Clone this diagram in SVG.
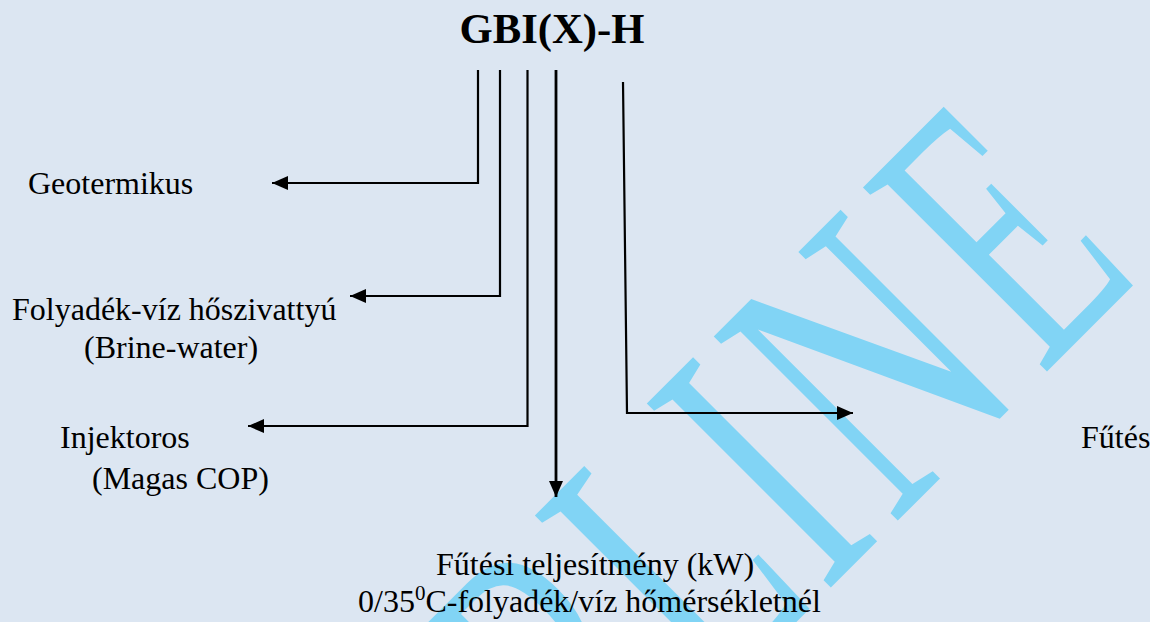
<svg xmlns="http://www.w3.org/2000/svg" width="1150" height="622" viewBox="0 0 1150 622">
  <defs>
    <marker id="ah" markerUnits="userSpaceOnUse" markerWidth="17" markerHeight="14" refX="16" refY="7" orient="auto">
      <path d="M0,0 L16,7 L0,14 Z" fill="#000"/>
    </marker>
    <style>
      .lbl { font-family: "Liberation Serif", "Times New Roman", serif; font-size: 32px; fill: #000; }
      .title { font-family: "Liberation Serif", "Times New Roman", serif; font-size: 42.7px; font-weight: bold; fill: #000; }
      .wm { font-family: "Liberation Serif", "Times New Roman", serif; font-size: 250px; fill: #81d4f5; }
      .conn { fill: none; stroke: #000; stroke-width: 2.2; marker-end: url(#ah); }
    </style>
  </defs>
  <rect width="1150" height="622" fill="#dce6f2"/>
  <g id="watermark" transform="rotate(-45) scale(1,1.59)">
    <text class="wm" x="-160" y="630.8">R</text>
    <text class="wm" x="6.5" y="630.8">L</text>
    <text class="wm" x="163" y="630.8">I</text>
    <text class="wm" transform="translate(259,630.8) scale(1.07,1)">N</text>
    <text class="wm" transform="translate(471,630.8) scale(0.93,1)">E</text>
  </g>
  <g id="title">
    <text class="title" x="552" y="43" text-anchor="middle">GBI(X)-H</text>
  </g>
  <g id="connectors">
    <path class="conn" d="M478,70 V183 H272"/>
    <path class="conn" d="M500,70 V296 H350"/>
    <path class="conn" d="M527.5,70 V426 H248"/>
    <path class="conn" d="M556,70 V497" style="stroke-width:2.8"/>
    <path class="conn" d="M623,82 L627,413 H853"/>
  </g>
  <g id="node-geotermikus"><text class="lbl" x="28" y="194">Geotermikus</text></g>
  <g id="node-folyadek">
    <text class="lbl" x="12" y="320">Folyadék-víz hőszivattyú</text>
    <text class="lbl" x="84" y="358">(Brine-water)</text>
  </g>
  <g id="node-injektoros">
    <text class="lbl" x="60" y="448">Injektoros</text>
    <text class="lbl" x="92" y="489">(Magas COP)</text>
  </g>
  <g id="node-futes"><text class="lbl" x="1081" y="448">Fűtés</text></g>
  <g id="node-teljesitmeny">
    <text class="lbl" x="436" y="575">Fűtési teljesítmény (kW)</text>
    <text class="lbl" x="358" y="612">0/35<tspan dy="-12" font-size="21">0</tspan><tspan dy="12">C-folyadék/víz hőmérsékletnél</tspan></text>
  </g>
</svg>
